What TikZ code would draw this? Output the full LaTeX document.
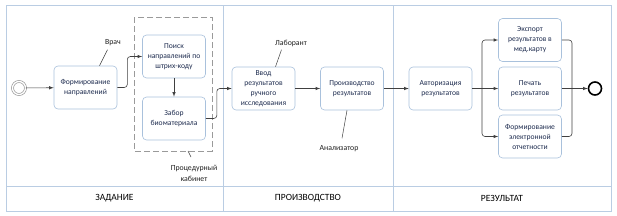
\documentclass[tikz,border=0pt]{standalone}
\usepackage{fontspec}
\setmainfont{Carlito}
\begin{document}
\begin{tikzpicture}[x=1pt,y=-1pt,
    task/.style={draw=taskBorder, fill=white, rounded corners=4pt, line width=0.6pt,
      minimum width=63pt, minimum height=43pt, inner sep=1pt, align=center,
      font=\fontsize{7.6}{10}\selectfont, text=textColour},
    flow/.style={draw=flowColour, line width=0.6pt, ->, >=latex, rounded corners=3pt},
    assoc/.style={draw=flowColour, line width=0.5pt},
    note/.style={font=\fontsize{7.8}{10.5}\selectfont, text=noteColour, align=center},
    lanetitle/.style={font=\fontsize{9.5}{11}\selectfont, text=black}]
    % Define colours
    \definecolor{taskBorder}{HTML}{A9C1DC}
    \definecolor{textColour}{HTML}{1F2D50}
    \definecolor{flowColour}{HTML}{404040}
    \definecolor{noteColour}{HTML}{202020}
    \definecolor{laneColour}{HTML}{BACDE3}
    \definecolor{groupColour}{HTML}{9A9A9A}

  \useasboundingbox (0,0) rectangle (617,215);

  % Draw the lanes
  \draw[laneColour, line width=0.6pt] (6,5) rectangle (611,211);
  \draw[laneColour, line width=0.6pt] (6,186) -- (611,186);
  \draw[laneColour, line width=0.6pt] (223,5) -- (223,211);
  \draw[laneColour, line width=0.6pt] (393,5) -- (393,211);
  \node[lanetitle] (laneTask) at (114.5,198.5) {ЗАДАНИЕ};
  \node[lanetitle] (laneProd) at (308,198.5) {ПРОИЗВОДСТВО};
  \node[lanetitle] (laneRes) at (502,198.5) {РЕЗУЛЬТАТ};

  % Draw the procedure room group
  \draw[groupColour, line width=0.6pt, dash pattern=on 6pt off 3pt] (134,17) rectangle (212,151);

  % Place the events and tasks
  \node[circle, draw=groupColour, double=white, double distance=1.3pt, line width=0.7pt, minimum size=13pt, inner sep=0pt] (start) at (19,88) {};
  \node[task] (form) at (85.5,87.5) {Формирование\\направлений};
  \node[task] (search) at (174,56.5) {Поиск\\направлений по\\штрих-коду};
  \node[task] (collect) at (174,118.5) {Забор\\биоматериала};
  \node[task] (input) at (263.5,88.5) {Ввод\\результатов\\ручного\\исследования};
  \node[task] (produce) at (352,88.5) {Производство\\результатов};
  \node[task] (auth) at (440.5,88.5) {Авторизация\\результатов};
  \node[task] (export) at (530,40) {Экспорт\\результатов в\\мед.карту};
  \node[task] (print) at (530,88.5) {Печать\\результатов};
  \node[task] (report) at (530,136.5) {Формирование\\электронной\\отчетности};
  \node[circle, draw=black, line width=1.6pt, minimum size=13pt, inner sep=0pt] (end) at (595,88.5) {};

  % Draw the sequence flows
  \draw[flow] (start) -- (form);
  \draw[flow] (form.east) -- ++(10,0) |- (search.west);
  \draw[flow] (search) -- (collect);
  \draw[flow] (collect.east) -- ++(11,0) |- (input.west);
  \draw[flow] (input) -- (produce);
  \draw[flow] (produce) -- (auth);

  % Fork and join of the result tasks
  \coordinate (fork) at (482,88.5);
  \coordinate (join) at (572,88.5);
  \draw[flow] (auth) -- (print);
  \draw[flow] (fork) |- (export.west);
  \draw[flow] (fork) |- (report.west);
  \draw[flowColour, line width=0.6pt, rounded corners=3pt] (export.east) -| (join);
  \draw[flowColour, line width=0.6pt, rounded corners=3pt] (report.east) -| (join);
  \draw[flow] (print) -- (end);

  % Label the performers
  \node[note] (doctor) at (113,43) {Врач};
  \node[note] (labTech) at (291,43) {Лаборант};
  \node[note] (analyzer) at (339,149) {Анализатор};
  \node[note] (room) at (194,173.5) {Процедурный\\кабинет};
  \draw[assoc] ([xshift=14pt]form.north) -- ++(8,-16);
  \draw[assoc] ([xshift=12pt]input.north) -- ++(6,-17);
  \draw[assoc] ([xshift=-5pt]produce.south) -- ++(-5,28);
  \draw[assoc] (188,151) -- ++(3,6);

\end{tikzpicture}
\end{document}
